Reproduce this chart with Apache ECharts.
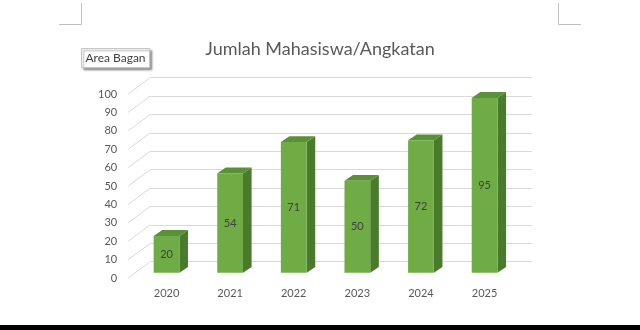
<!DOCTYPE html>
<html>
<head>
<meta charset="utf-8">
<style>
  html, body { margin: 0; padding: 0; background: #ffffff; }
  #chart { width: 640px; height: 330px; }
</style>
<script src="https://cdn.jsdelivr.net/npm/echarts@6/dist/echarts.min.js"></script>
</head>
<body>
<div id="chart"></div>
<script>
// Number of students per intake year
const years = ['2020', '2021', '2022', '2023', '2024', '2025'];
const students = [20, 54, 71, 50, 72, 95];
const yTicks = [0, 10, 20, 30, 40, 50, 60, 70, 80, 90, 100];

const chartTitle = 'Jumlah Mahasiswa/Angkatan';
const tipText = 'Area Bagan';

const FONT = 'Lato, "Open Sans", sans-serif';
const TEXT_GREY = '#595959';

// 3D look: offset of the back wall and of the front label plane from the bar plane
const BACK = [15.5, -11];
const FRONT = [-6.5, 5.3];
// depth of each bar's top/side faces
const DEPTH = [8.6, -5.8];

const chart = echarts.init(document.getElementById('chart'), null, { renderer: 'canvas' });

function renderBar(params, api) {
  const i = api.value(0);
  const v = api.value(1);
  const base = api.coord([i, 0]);
  const top = api.coord([i, v]);
  const band = api.size([1, 0])[0];
  const w = band * 0.405;
  const xl = base[0] - w / 2;
  const xr = base[0] + w / 2;
  const yb = base[1];
  const yt = top[1];
  const [dx, dy] = DEPTH;
  return {
    type: 'group',
    children: [
      {
        type: 'polygon',
        shape: { points: [[xr, yt], [xr + dx, yt + dy], [xr + dx, yb + dy], [xr, yb]] },
        style: { fill: '#4a7b2c' }
      },
      {
        type: 'polygon',
        shape: { points: [[xl, yt], [xl + dx, yt + dy], [xr + dx, yt + dy], [xr, yt]] },
        style: { fill: '#5a9136' }
      },
      {
        type: 'rect',
        shape: { x: xl, y: yt, width: w, height: yb - yt },
        style: { fill: '#6fac46' }
      },
      {
        type: 'text',
        style: {
          x: base[0], y: (yt + yb) / 2,
          text: String(v),
          align: 'center', verticalAlign: 'middle',
          fill: '#404040', font: '11px ' + FONT
        }
      }
    ]
  };
}

// Diagonal floor/wall lines joining each front tick to the back wall
function renderDiagonal(params, api) {
  const p = api.coord([0, api.value(0)]);
  const left = p[0] - api.size([1, 0])[0] / 2;
  return {
    type: 'line',
    shape: {
      x1: left + FRONT[0] - BACK[0], y1: p[1] + FRONT[1] - BACK[1],
      x2: left, y2: p[1]
    },
    style: { stroke: '#d9d9d9', lineWidth: 1 }
  };
}

const plane = { left: 134.7, right: 123.6, top: 88.7, bottom: 57.3 };

chart.setOption({
  animation: false,
  backgroundColor: '#ffffff',
  title: {
    text: chartTitle,
    left: 'center',
    top: 35,
    textStyle: { color: TEXT_GREY, fontFamily: FONT, fontSize: 18, fontWeight: 'normal' }
  },
  grid: [
    // bar plane
    { left: plane.left, right: plane.right, top: plane.top, bottom: plane.bottom },
    // back wall
    {
      left: plane.left + BACK[0], right: plane.right - BACK[0],
      top: plane.top + BACK[1], bottom: plane.bottom - BACK[1]
    },
    // front label plane
    {
      left: plane.left + FRONT[0], right: plane.right - FRONT[0],
      top: plane.top + FRONT[1], bottom: plane.bottom - FRONT[1]
    }
  ],
  xAxis: [
    {
      gridIndex: 0, type: 'category', data: years,
      axisLine: { show: false }, axisTick: { show: false },
      axisLabel: { margin: 15, color: TEXT_GREY, fontFamily: FONT, fontSize: 11 }
    },
    { gridIndex: 1, type: 'category', data: years, show: false },
    { gridIndex: 2, type: 'category', data: years, show: false }
  ],
  yAxis: [
    { gridIndex: 0, type: 'value', min: 0, max: 100, interval: 10, show: false },
    {
      gridIndex: 1, type: 'value', min: 0, max: 100, interval: 10,
      axisLine: { show: false }, axisTick: { show: false }, axisLabel: { show: false },
      splitLine: { show: true, lineStyle: { color: '#d9d9d9', width: 1 } }
    },
    {
      gridIndex: 2, type: 'value', min: 0, max: 100, interval: 10,
      axisLine: { show: false }, axisTick: { show: false }, splitLine: { show: false },
      axisLabel: {
        margin: 11, color: TEXT_GREY, fontFamily: FONT, fontSize: 11,
        customValues: yTicks
      }
    }
  ],
  series: [
    {
      type: 'custom',
      xAxisIndex: 1, yAxisIndex: 1,
      renderItem: renderDiagonal,
      data: yTicks.map(v => [v]),
      encode: { y: 0 },
      silent: true,
      z: 1
    },
    {
      type: 'custom',
      xAxisIndex: 0, yAxisIndex: 0,
      renderItem: renderBar,
      data: students.map((v, i) => [i, v]),
      encode: { x: 0, y: 1 },
      z: 5
    }
  ],
  graphic: [
    // page corner marks
    {
      type: 'polyline',
      shape: { points: [[59, 24.5], [81.5, 24.5], [81.5, 3]] },
      style: { stroke: '#c0c0c0', lineWidth: 1, fill: null }
    },
    {
      type: 'polyline',
      shape: { points: [[558.5, 3], [558.5, 24.5], [581, 24.5]] },
      style: { stroke: '#c0c0c0', lineWidth: 1, fill: null }
    },
    // hover tip with a soft drop shadow
    {
      type: 'rect',
      shape: { x: 81.5, y: 48.5, width: 68, height: 19 },
      style: {
        fill: '#ffffff', stroke: '#c6c6c6', lineWidth: 1,
        shadowColor: 'rgba(0,0,0,0.35)', shadowBlur: 2, shadowOffsetX: 2, shadowOffsetY: 2
      }
    },
    {
      type: 'text',
      style: {
        x: 115.5, y: 58, text: tipText,
        align: 'center', verticalAlign: 'middle',
        fill: '#404040', font: '12px ' + FONT
      }
    },
    // bottom band
    {
      type: 'rect',
      shape: { x: 0, y: 325, width: 640, height: 5 },
      style: { fill: '#000000' }
    }
  ]
});
</script>
</body>
</html>
